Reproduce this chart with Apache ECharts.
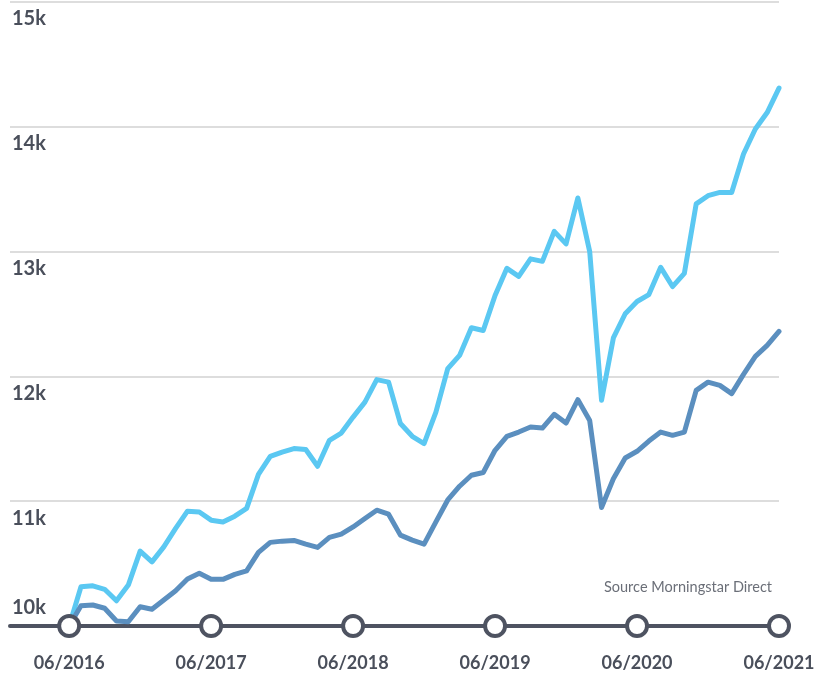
<!DOCTYPE html>
<html>
<head>
<meta charset="utf-8">
<script src="https://cdn.jsdelivr.net/npm/echarts@6/dist/echarts.min.js"></script>
<style>
html,body{margin:0;padding:0;background:#fff;}
#chart{width:825px;height:678px;}
</style>
</head>
<body>
<div id="chart"></div>
<script>
// Month index 0 = 06/2016 ... 60 = 06/2021
const tickIndex = [0, 12, 24, 36, 48, 60];
const tickLabels = ['06/2016', '06/2017', '06/2018', '06/2019', '06/2020', '06/2021'];
const yTicks = ['10k', '11k', '12k', '13k', '14k', '15k'];

const lightSeries = [
  10000, 10314, 10322, 10294, 10202, 10328, 10600, 10514, 10634, 10782,
  10920, 10914, 10848, 10834, 10880, 10942, 11215, 11360, 11394, 11422,
  11414, 11280, 11488, 11546, 11674, 11794, 11974, 11954, 11622, 11520,
  11462, 11714, 12062, 12168, 12390, 12368, 12648, 12866, 12802, 12942,
  12922, 13162, 13062, 13430, 13000, 11808, 12308, 12502, 12600, 12656,
  12874, 12720, 12826, 13382, 13448, 13474, 13474, 13782, 13982, 14114,
  14310
];
const darkSeries = [
  10000, 10162, 10168, 10142, 10040, 10034, 10154, 10134, 10208, 10282,
  10376, 10422, 10374, 10374, 10414, 10442, 10590, 10670, 10680, 10686,
  10656, 10630, 10710, 10736, 10794, 10862, 10928, 10896, 10728, 10688,
  10656, 10834, 11010, 11120, 11208, 11230, 11408, 11520, 11554, 11594,
  11586, 11696, 11626, 11814, 11646, 10950, 11180, 11346, 11400, 11482,
  11554, 11528, 11554, 11888, 11954, 11928, 11862, 12016, 12160, 12248,
  12360
];
const sourceText = 'Source Morningstar Direct';

const FONT = 'Lato';
const AXIS_COLOR = '#4e5361';
const TEXT_COLOR = '#4a4f5b';

const chart = echarts.init(document.getElementById('chart'), null, {renderer: 'canvas'});
const toPairs = arr => arr.map((v, i) => [i, v]);
const yLabel = v => yTicks[Math.round((v - 10000) / 1000)];

chart.setOption({
  animation: false,
  backgroundColor: '#ffffff',
  title: {
    text: sourceText,
    right: 48,
    top: 575,
    textStyle: {fontFamily: FONT, fontSize: 14.5, fontWeight: 'normal', color: '#6b6f78'}
  },
  grid: {left: 10, right: 46, top: 2, bottom: 52, containLabel: false},
  xAxis: {
    type: 'value',
    min: -5,
    max: 60,
    axisLine: {show: true, onZero: false, lineStyle: {color: AXIS_COLOR, width: 4}},
    axisTick: {show: false},
    splitLine: {show: false},
    axisLabel: {
      customValues: tickIndex,
      margin: 28,
      fontFamily: FONT,
      fontSize: 18,
      fontWeight: 'bold',
      color: TEXT_COLOR,
      formatter: v => tickLabels[tickIndex.indexOf(v)]
    }
  },
  yAxis: [
    {
      type: 'value',
      min: 10000,
      max: 15000,
      interval: 1000,
      axisLine: {show: false},
      axisTick: {show: false},
      splitLine: {show: true, lineStyle: {color: '#d2d2d2', width: 1.5}},
      axisLabel: {
        inside: true,
        margin: 2,
        align: 'left',
        verticalAlign: 'top',
        padding: [7, 0, 0, 0],
        fontFamily: FONT,
        fontSize: 20,
        fontWeight: 'bold',
        color: TEXT_COLOR,
        formatter: v => (v === 10000 ? '' : yLabel(v))
      }
    },
    {
      type: 'value',
      position: 'left',
      min: 10000,
      max: 15000,
      interval: 1000,
      axisLine: {show: false},
      axisTick: {show: false},
      splitLine: {show: false},
      axisLabel: {
        inside: true,
        margin: 2,
        align: 'left',
        verticalAlign: 'bottom',
        padding: [0, 0, 8, 0],
        fontFamily: FONT,
        fontSize: 20,
        fontWeight: 'bold',
        color: TEXT_COLOR,
        formatter: v => (v === 10000 ? yLabel(v) : '')
      }
    }
  ],
  series: [
    {
      type: 'line',
      data: toPairs(lightSeries),
      showSymbol: false,
      symbol: 'none',
      lineStyle: {color: '#5bc8f2', width: 5, cap: 'round', join: 'round'},
      z: 3
    },
    {
      type: 'line',
      data: toPairs(darkSeries),
      showSymbol: false,
      symbol: 'none',
      lineStyle: {color: '#5b8fbf', width: 5, cap: 'round', join: 'round'},
      z: 4
    },
    {
      type: 'scatter',
      data: tickIndex.map(i => [i, 10000]),
      symbol: 'circle',
      symbolSize: 20,
      clip: false,
      itemStyle: {color: '#ffffff', borderColor: AXIS_COLOR, borderWidth: 4, opacity: 1},
      z: 10,
      silent: true
    }
  ]
});
</script>
</body>
</html>
